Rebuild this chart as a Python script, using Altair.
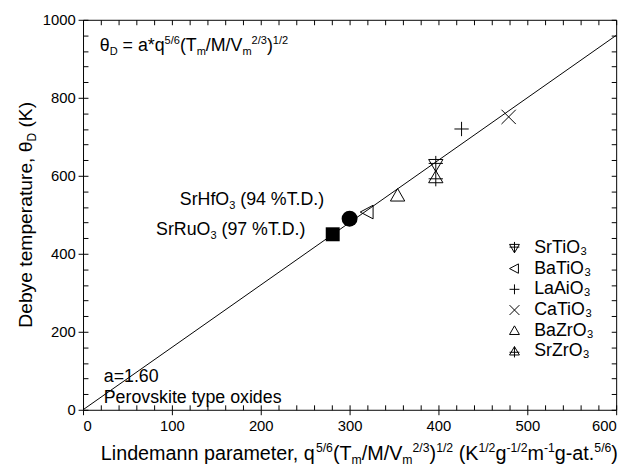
import altair as alt
import pandas as pd

FONT = "Liberation Sans"

# ---------------- data ----------------
compounds = ["SrTiO₃", "BaTiO₃", "LaAiO₃", "CaTiO₃", "BaZrO₃", "SrZrO₃"]
q_values = [397, 320, 426, 479, 354, 397]
theta_values = [629, 507, 720, 751, 549, 595]

hf_q = [300]
hf_theta = [490]
ru_q = [281]
ru_theta = [450]

fit_q = [0, 600]
fit_theta = [0, 960]

x_major = [0, 100, 200, 300, 400, 500, 600]
x_minor = list(range(0, 601, 20))
y_major = [0, 200, 400, 600, 800, 1000]
y_minor = list(range(0, 1001, 40))

shape_paths = [
    "M-1,-0.7L1,-0.7L0,1Z M0,-1.2V1 M-1,-0.15H1",
    "M-1,0L0.8,-0.95L0.8,0.95Z",
    "M-1,0H1M0,-1V1",
    "M-1,-1L1,1M-1,1L1,-1",
    "M0,-1L1,0.75L-1,0.75Z",
    "M-1,0.7L1,0.7L0,-1Z M0,1.2V-1 M-1,0.15H1",
]

# ---------------- layout helpers ----------------
W = {' ': 278, '%': 889, '(': 333, ')': 333, '*': 389, ',': 278, '-': 333, '.': 278,
     '/': 278, '=': 584, 'A': 667, 'B': 667, 'C': 722, 'D': 722, 'H': 722, 'K': 667,
     'L': 556, 'M': 833, 'O': 778, 'P': 667, 'R': 722, 'S': 667, 'T': 611, 'V': 667,
     'Z': 611, 'a': 556, 'b': 556, 'd': 556, 'e': 556, 'f': 278, 'g': 556, 'i': 222,
     'k': 500, 'l': 222, 'm': 833, 'n': 556, 'o': 556, 'p': 556, 'q': 556, 'r': 333,
     's': 500, 't': 278, 'u': 556, 'v': 500, 'x': 500, 'y': 500, 'θ': 556}


def tw(s):
    return sum(W.get(c, 556) for c in s) / 1000.0


PL, PT = 84, 17  # page position of plot origin


def pieces(parts, x0, y0, fs, rot=False, r=0.62, sup=0.42, sub=0.22):
    rows = []
    s = 0.0
    for txt, kind in parts:
        f = fs if kind == "n" else fs * r
        b = 0.0 if kind == "n" else (-sup * fs if kind == "sup" else sub * fs)
        lead = len(txt) - len(txt.lstrip(" "))
        off = tw(" " * lead) * f
        if rot:
            rows.append(dict(px=x0 + b, py=y0 - s - off, t=txt.strip(), fs=f))
        else:
            rows.append(dict(px=x0 + s + off, py=y0 + b, t=txt.strip(), fs=f))
        s += tw(txt) * f
    return rows, s


def text_layer(rows, angle=0):
    return alt.Chart(pd.DataFrame(rows)).mark_text(
        align="left", baseline="alphabetic", font=FONT, angle=angle, color="black"
    ).encode(
        x=alt.X("px:Q", scale=None, axis=None),
        y=alt.Y("py:Q", scale=None, axis=None),
        text="t:N",
        size=alt.Size("fs:Q", scale=None, legend=None),
    )


# ---------------- scales & axes ----------------
xs = alt.Scale(domain=[0, 600], nice=False, zero=False)
ys = alt.Scale(domain=[0, 1000], nice=False, zero=False)

common = dict(domain=False, grid=False, title=None, tickColor="black", tickWidth=1)

ax_bottom = alt.Axis(orient="bottom", values=x_major, tickSize=5, labelPadding=4,
                     format="d", labelFontSize=15, labelFont=FONT, labelColor="black",
                     **common)
ax_left = alt.Axis(orient="left", values=y_major, tickSize=5, labelPadding=3,
                   format="d", labelFontSize=15, labelFont=FONT, labelColor="black",
                   **common)
ax_bottom_in = alt.Axis(orient="bottom", values=x_minor, tickSize=5, offset=-5,
                        labels=False, **common)
ax_left_in = alt.Axis(orient="left", values=y_minor, tickSize=5, offset=-5,
                      labels=False, **common)
ax_top_in = alt.Axis(orient="top", values=x_minor, tickSize=5, offset=-5,
                     labels=False, **common)
ax_right_in = alt.Axis(orient="right", values=y_minor, tickSize=5, offset=-5,
                       labels=False, **common)

# ---------------- layers ----------------
fit_df = pd.DataFrame({"q": fit_q, "theta": fit_theta})
line = alt.Chart(fit_df).mark_line(color="black", strokeWidth=1).encode(
    x=alt.X("q:Q", scale=xs, axis=ax_bottom),
    y=alt.Y("theta:Q", scale=ys, axis=ax_left),
)

pts_df = pd.DataFrame({"compound": compounds, "q": q_values, "theta": theta_values})
pts = alt.Chart(pts_df).mark_point(filled=False, color="black", strokeWidth=1,
                                   size=210, opacity=1).encode(
    x=alt.X("q:Q", scale=xs, axis=ax_bottom_in),
    y=alt.Y("theta:Q", scale=ys, axis=ax_left_in),
    shape=alt.Shape(
        "compound:N",
        scale=alt.Scale(domain=compounds, range=shape_paths),
        legend=alt.Legend(
            title=None, orient="none", legendX=428, legendY=222,
            labelFontSize=18, labelFont=FONT, labelColor="black", labelOffset=11,
            symbolSize=100, symbolStrokeColor="black", symbolStrokeWidth=1,
            rowPadding=3, padding=0,
        ),
    ),
)

hf = alt.Chart(pd.DataFrame({"q": hf_q, "theta": hf_theta})).mark_circle(
    color="black", size=260, opacity=1
).encode(
    x=alt.X("q:Q", scale=xs, axis=ax_top_in),
    y=alt.Y("theta:Q", scale=ys, axis=ax_right_in),
)
ru = alt.Chart(pd.DataFrame({"q": ru_q, "theta": ru_theta})).mark_square(
    color="black", size=200, opacity=1
).encode(
    x=alt.X("q:Q", scale=xs, axis=None),
    y=alt.Y("theta:Q", scale=ys, axis=None),
)

# ---------------- texts ----------------
xt_rows, xt_len = pieces(
    [("Lindemann parameter, q", "n"), ("5/6", "sup"), ("(T", "n"), ("m", "sub"),
     ("/M/V", "n"), ("m", "sub"), ("2/3", "sup"), (")", "n"), ("1/2", "sup"),
     (" (K", "n"), ("1/2", "sup"), ("g", "n"), ("-1/2", "sup"), ("m", "n"),
     ("-1", "sup"), ("g-at.", "n"), ("5/6", "sup"), (")", "n")],
    102 - PL, 463 - PT, 20)

yt_parts = [("Debye temperature, θ", "n"), ("D", "sub"), (" (K)", "n")]
_, yt_len = pieces(yt_parts, 0, 0, 19.5)
yt_rows, _ = pieces(yt_parts, 32 - PL, 197.5 + yt_len / 2, 19.5, rot=True)

f_rows, _ = pieces(
    [("θ", "n"), ("D", "sub"), (" = a*q", "n"), ("5/6", "sup"), ("(T", "n"),
     ("m", "sub"), ("/M/V", "n"), ("m", "sub"), ("2/3", "sup"), (")", "n"),
     ("1/2", "sup")],
    101 - PL, 49 - PT, 18)

hf_rows, _ = pieces([("SrHfO", "n"), ("3", "sub"), (" (94 %T.D.)", "n")],
                    182 - PL, 205 - PT, 18)
ru_rows, _ = pieces([("SrRuO", "n"), ("3", "sub"), (" (97 %T.D.)", "n")],
                    158 - PL, 235 - PT, 18)
a_rows, _ = pieces([("a=1.60", "n")], 105 - PL, 384 - PT, 18)
p_rows, _ = pieces([("Perovskite type oxides", "n")], 105 - PL, 405 - PT, 18)

texts = text_layer(xt_rows + f_rows + hf_rows + ru_rows + a_rows + p_rows)
ytitle = text_layer(yt_rows, angle=270)

chart = alt.layer(line, pts, hf, ru, texts, ytitle).resolve_axis(
    x="independent", y="independent"
).properties(
    width=540, height=395, autosize="none",
    padding={"left": 76, "top": 9, "right": 13, "bottom": 54},
).configure_view(stroke="black", strokeWidth=1)

chart.save("out.html", embed_options={"renderer": "svg", "actions": False})
